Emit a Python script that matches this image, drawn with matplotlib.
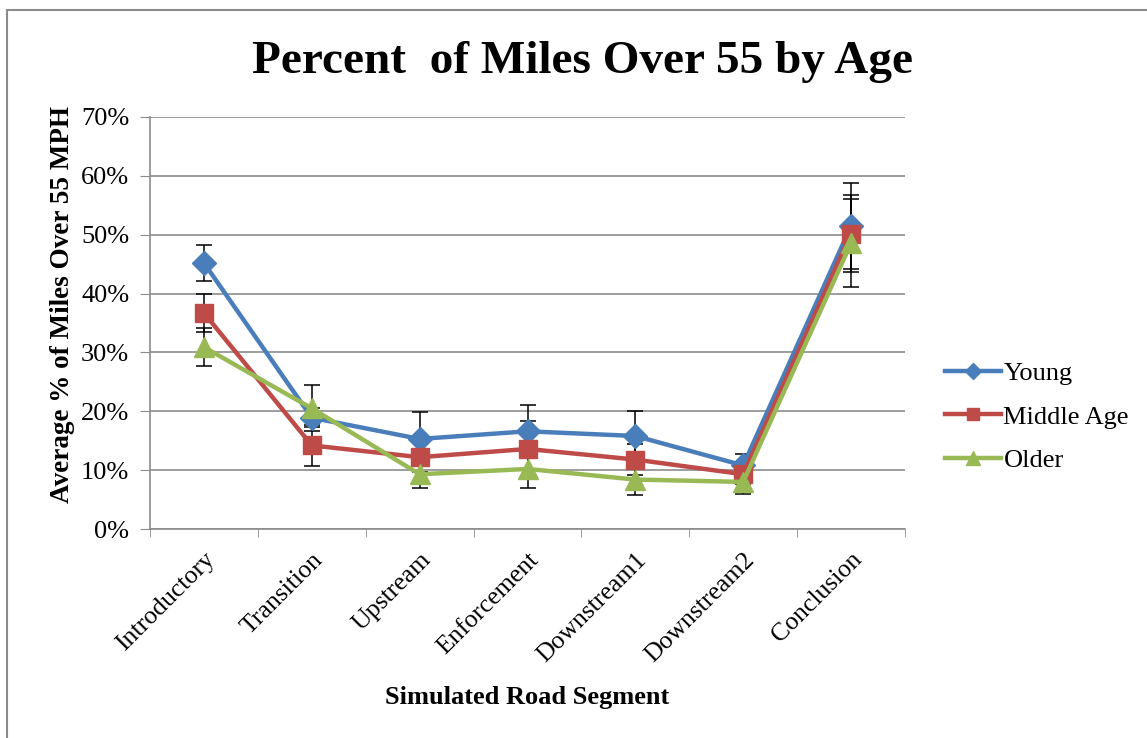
import matplotlib.pyplot as plt
import matplotlib.transforms as mtransforms
from matplotlib.patches import Rectangle
from matplotlib.lines import Line2D

SEGMENTS = ["Introductory", "Transition", "Upstream", "Enforcement",
            "Downstream1", "Downstream2", "Conclusion"]

YOUNG = [45.2, 18.9, 15.3, 16.6, 15.8, 10.8, 51.5]
MIDDLE = [36.7, 14.2, 12.2, 13.6, 11.8, 9.3, 50.2]
OLDER = [30.9, 20.5, 9.3, 10.2, 8.4, 8.0, 48.6]

YOUNG_ERR = [3.0, 1.6, 4.6, 4.4, 4.3, 1.9, 7.3]
MIDDLE_ERR = [3.3, 3.5, 2.6, 4.8, 2.6, 1.6, 6.5]
OLDER_ERR = [3.2, 3.9, 2.4, 3.2, 2.7, 2.1, 7.5]

plt.rcParams["font.family"] = ["Liberation Serif", "DejaVu Serif"]

fig = plt.figure(figsize=(11.47, 7.38), dpi=100)
ax = fig.add_axes([150 / 1147, 1 - 529 / 738, 755 / 1147, 412 / 738])

# outer chart frame
fig.patches.append(Rectangle((7 / 1147, -0.1), 1.2, 1 - 10 / 738 + 0.1,
                             transform=fig.transFigure, fill=False,
                             edgecolor="#8c8c8c", linewidth=1.5))

x = list(range(len(SEGMENTS)))
series = [
    ("Young", YOUNG, YOUNG_ERR, "#4A7EBB", "D", 12),
    ("Middle Age", MIDDLE, MIDDLE_ERR, "#BE4B48", "s", 13),
    ("Older", OLDER, OLDER_ERR, "#98B954", "^", 14),
]
handles = []
for name, vals, err, col, mk, ms in series:
    ax.errorbar(x, vals, yerr=err, color=col, marker=mk, markersize=ms,
                linewidth=3.2, ecolor="black", elinewidth=1.1, capsize=6,
                capthick=1.1)
    handles.append(Line2D([], [], color=col, marker=mk, markersize=ms * 0.7,
                          linewidth=3.2, label=name))

ax.set_xlim(-0.5, len(SEGMENTS) - 0.5)
ax.set_ylim(0, 70)
ax.set_yticks(range(0, 71, 10))
ax.set_yticklabels([f"{v}%" for v in range(0, 71, 10)], fontsize=19)
ax.yaxis.grid(True, color="#8c8c8c", linewidth=1.2)
ax.set_axisbelow(True)

ax.set_xticks(x)
ax.set_xticklabels(SEGMENTS, rotation=45, ha="right", rotation_mode="anchor",
                   fontsize=18.5)
shift = mtransforms.ScaledTranslation(-9 / 100, 0, fig.dpi_scale_trans)
for lbl in ax.get_xticklabels():
    lbl.set_transform(lbl.get_transform() + shift)
ax.tick_params(axis="x", length=0, pad=14)
ax.set_xticks([i - 0.5 for i in range(len(SEGMENTS) + 1)], minor=True)
ax.tick_params(axis="x", which="minor", length=6, color="#8c8c8c")
ax.tick_params(axis="y", length=7, color="#8c8c8c", pad=8)

for s in ["top", "right"]:
    ax.spines[s].set_visible(False)
for s in ["left", "bottom"]:
    ax.spines[s].set_color("#8c8c8c")
    ax.spines[s].set_linewidth(1.2)

ax.set_ylabel("Average % of Miles Over 55 MPH", fontsize=19.5,
              fontweight="bold")
ax.yaxis.set_label_coords(-0.099, (529 - 305) / 412)
ax.set_xlabel("Simulated Road Segment", fontsize=19, fontweight="bold")
ax.xaxis.set_label_coords(0.5, (529 - 686) / 412)
fig.text(582 / 1147, 1 - 62 / 738, "Percent  of Miles Over 55 by Age",
         ha="center", va="center", fontsize=34, fontweight="bold")

ax.legend(handles=handles, loc="center left",
          bbox_to_anchor=(1.022, (529 - 417) / 412), frameon=False,
          fontsize=19, handlelength=2.1, handletextpad=0.1, labelspacing=0.75)

fig.savefig("out.png", dpi=100)
